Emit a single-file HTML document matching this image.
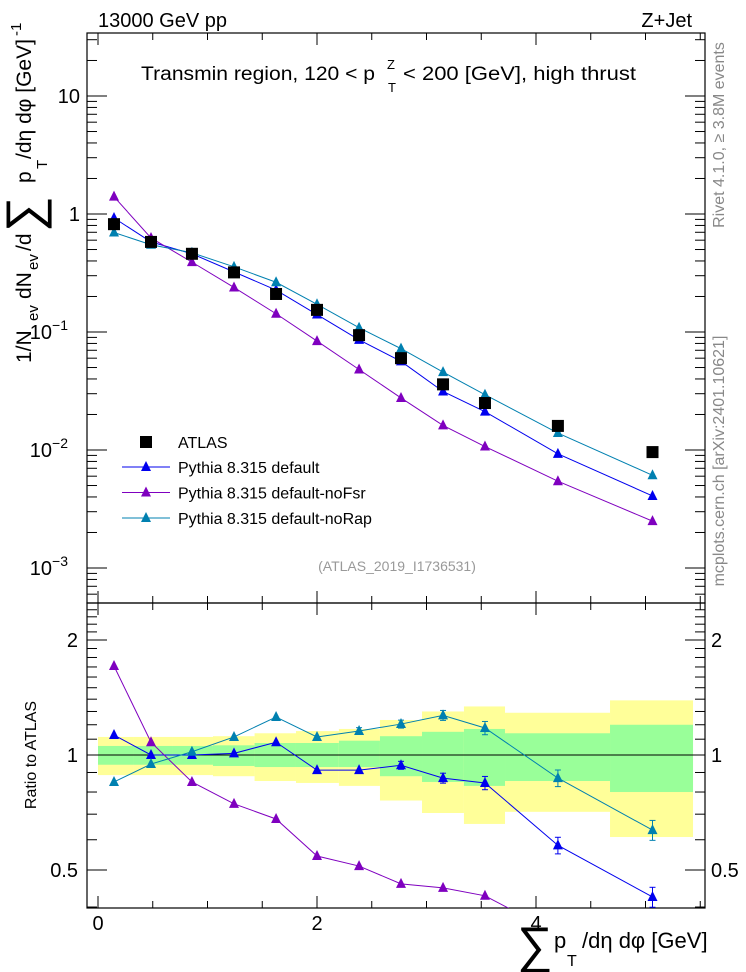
<!DOCTYPE html>
<html><head><meta charset="utf-8">
<style>
html,body{margin:0;padding:0;background:#fff;}
svg{display:block;font-family:"Liberation Sans",Arial,sans-serif;}
</style></head>
<body>
<svg id="chart" width="746" height="972" viewBox="0 0 746 972" xmlns="http://www.w3.org/2000/svg">
<g id="bands"></g>
<g id="axes"></g>
<g id="series"></g>
<g id="labels">
  <text x="98" y="27" font-size="20">13000 GeV pp</text>
  <text x="692" y="27" font-size="20" text-anchor="end">Z+Jet</text>
  <g font-size="19">
    <text x="141" y="80" textLength="234" lengthAdjust="spacingAndGlyphs">Transmin region, 120 &lt; p</text>
    <text x="387" y="69" font-size="13">Z</text>
    <text x="388" y="92" font-size="13">T</text>
    <text x="403" y="80" textLength="233" lengthAdjust="spacingAndGlyphs">&lt; 200 [GeV], high thrust</text>
  </g>
  <text x="397" y="571" font-size="14" fill="#999" text-anchor="middle">(ATLAS_2019_I1736531)</text>
  <text transform="translate(724,135) rotate(-90)" font-size="16" fill="#888" text-anchor="middle">Rivet 4.1.0, ≥ 3.8M events</text>
  <text transform="translate(724,461) rotate(-90)" font-size="16" fill="#888" text-anchor="middle">mcplots.cern.ch [arXiv:2401.10621]</text>
  <g transform="translate(31,363) rotate(-90)" font-size="21">
    <text x="0" y="0">1/N</text>
    <text x="42" y="7" font-size="15">ev</text>
    <text x="64" y="0">dN</text>
    <text x="93" y="7" font-size="15">ev</text>
    <text x="112" y="0">/d</text>
    <text x="131" y="10" font-size="50">∑</text>
    <text x="180" y="0">p</text>
    <text x="194" y="16" font-size="15">T</text>
    <text x="204" y="0" textLength="120" lengthAdjust="spacingAndGlyphs">/dη dφ  [GeV]</text>
    <text x="327" y="-10" font-size="15">-1</text>
  </g>
  <text transform="translate(36,755) rotate(-90)" font-size="16" text-anchor="middle">Ratio to ATLAS</text>
  <g font-size="22">
    <text x="517" y="962" font-size="50">∑</text>
    <text x="554" y="948">p</text>
    <text x="567" y="966" font-size="16">T</text>
    <text x="582" y="948">/dη dφ [GeV]</text>
  </g>
</g>
<g id="legend"></g>
</svg>
<script>
const xCenters = [0.146, 0.484, 0.858, 1.242, 1.626, 2.0, 2.384, 2.767, 3.151, 3.534, 4.2, 5.064];
const binEdges = [0, 0.32, 0.676, 1.05, 1.43, 1.808, 2.2, 2.575, 2.959, 3.342, 3.717, 4.676, 5.434];
const atlasValues = [0.82, 0.58, 0.46, 0.32, 0.21, 0.154, 0.094, 0.060, 0.036, 0.025, 0.016, 0.0096];
const ratioDefault = [1.128, 1.0, 1.0, 1.01, 1.08, 0.913, 0.913, 0.94, 0.87, 0.845, 0.58, 0.425];
const ratioNoFsr = [1.71, 1.08, 0.85, 0.745, 0.68, 0.544, 0.512, 0.46, 0.449, 0.428, 0.34, 0.26];
const ratioNoRap = [0.85, 0.947, 1.02, 1.115, 1.257, 1.115, 1.156, 1.205, 1.27, 1.177, 0.87, 0.636];
const ratioErr = [0.005, 0.005, 0.005, 0.005, 0.006, 0.008, 0.01, 0.012, 0.015, 0.02, 0.025, 0.03];
const yellowHi = [1.115, 1.115, 1.115, 1.12, 1.14, 1.155, 1.17, 1.235, 1.30, 1.34, 1.29, 1.39];
const yellowLo = [0.886, 0.886, 0.886, 0.88, 0.855, 0.845, 0.83, 0.76, 0.705, 0.66, 0.71, 0.61];
const greenHi = [1.056, 1.056, 1.056, 1.06, 1.075, 1.075, 1.09, 1.12, 1.15, 1.17, 1.14, 1.2];
const greenLo = [0.943, 0.943, 0.943, 0.936, 0.93, 0.93, 0.93, 0.88, 0.85, 0.83, 0.855, 0.80];
const seriesNames = ["Pythia 8.315 default", "Pythia 8.315 default-noFsr", "Pythia 8.315 default-noRap"];

const NS = "http://www.w3.org/2000/svg";
const L = 87, Rt = 705, T1 = 33, B1 = 603, T2 = 603, B2 = 908;
const X = v => 98 + 109.5 * v;
const Y = v => 214 - 118 * Math.log10(v);
const RY = r => 755 - 115 * Math.log2(r);
function mk(tag, attrs, parent) {
  const e = document.createElementNS(NS, tag);
  for (const k in attrs) e.setAttribute(k, attrs[k]);
  parent.appendChild(e);
  return e;
}
const axes = document.getElementById('axes');
const bands = document.getElementById('bands');
const series = document.getElementById('series');
const legend = document.getElementById('legend');

for (let i = 0; i < xCenters.length; i++) {
  const x0 = X(binEdges[i]), x1 = X(binEdges[i + 1]);
  const yb = mk('rect', {x: x0, y: RY(yellowHi[i]), width: x1 - x0, height: RY(yellowLo[i]) - RY(yellowHi[i]), fill: '#ffff99'}, bands);
  
  
  const gb = mk('rect', {x: x0, y: RY(greenHi[i]), width: x1 - x0, height: RY(greenLo[i]) - RY(greenHi[i]), fill: '#99ff99'}, bands);
  
  
}
const one = mk('line', {x1: L, x2: Rt, y1: RY(1), y2: RY(1), stroke: '#000', 'stroke-width': 1}, axes);



const f1 = mk('rect', {x: L, y: T1, width: Rt - L, height: B1 - T1, fill: 'none', stroke: '#000', 'stroke-width': 1.2}, axes);


const f2 = mk('rect', {x: L, y: T2, width: Rt - L, height: B2 - T2, fill: 'none', stroke: '#000', 'stroke-width': 1.2}, axes);



for (let v = 0; v <= 5.5; v += 0.5) {
  const x = X(v), major = Math.abs(v % 2) < 1e-9;
  const len = major ? 12 : 7;
  for (const [yt, yb] of [[T1, B1], [T2, B2]]) {
    mk('line', {x1: x, x2: x, y1: yt, y2: yt + len, stroke: '#000'}, axes);
    mk('line', {x1: x, x2: x, y1: yb, y2: yb - len, stroke: '#000'}, axes);
  }
  if (major && v < 5) {
    const t = mk('text', {x: x, y: 930, 'font-size': 20, 'text-anchor': 'middle'}, axes);
    t.textContent = String(v);
    
    
  }
}
for (let d = -4; d <= 1; d++) {
  for (let m = 1; m <= 9; m++) {
    const v = m * Math.pow(10, d), y = Y(v);
    if (y < T1 || y > B1) continue;
    const len = m === 1 ? 20 : 10;
    mk('line', {x1: L, x2: L + len, y1: y, y2: y, stroke: '#000'}, axes);
    mk('line', {x1: Rt, x2: Rt - len, y1: y, y2: y, stroke: '#000'}, axes);
    if (m === 1) {
      const t = mk('text', {x: 80, y: y + 7, 'font-size': 20, 'text-anchor': 'end'}, axes);
      
      
      if (d >= 0) t.textContent = String(Math.pow(10, d));
      else {
        t.textContent = '10';
        const s = mk('tspan', {dy: -9, 'font-size': 14}, t);
        s.textContent = '\u2212' + (-d);
        t.setAttribute('x', 80 - 4 - 8 * String(-d).length);
      }
    }
  }
}
for (let k = 4; k <= 25; k++) {
  const r = k / 10, y = RY(r);
  if (y < T2 || y > B2) continue;
  const major = (k === 5 || k === 10 || k === 20);
  const len = major ? 20 : 10;
  mk('line', {x1: L, x2: L + len, y1: y, y2: y, stroke: '#000'}, axes);
  mk('line', {x1: Rt, x2: Rt - len, y1: y, y2: y, stroke: '#000'}, axes);
  if (major) {
    const lbl = String(r);
    const t1 = mk('text', {x: 78, y: y + 7, 'font-size': 20, 'text-anchor': 'end'}, axes);
    t1.textContent = lbl;
    
    
    const t2 = mk('text', {x: 711, y: y + 7, 'font-size': 20}, axes);
    t2.textContent = lbl;
    
    
  }
}

function tri(parent, x, y, color) {
  return mk('polygon', {points: `${x - 5},${y + 4} ${x + 5},${y + 4} ${x},${y - 6}`, fill: color}, parent);
}
const colors = ['#0000ee', '#7f00bf', '#0080b0'];
const ratios = [ratioDefault, ratioNoFsr, ratioNoRap];

const defs = mk('defs', {}, document.getElementById('chart'));
const c1 = mk('clipPath', {id: 'clipMain'}, defs);
mk('rect', {x: L, y: T1, width: Rt - L, height: B1 - T1}, c1);
const c2 = mk('clipPath', {id: 'clipRatio'}, defs);
mk('rect', {x: L, y: T2, width: Rt - L, height: B2 - T2}, c2);

for (let s = 0; s < 3; s++) {
  const rat = ratios[s];
  const gm = mk('g', {'clip-path': 'url(#clipMain)'}, series);
  
  
  const pts = xCenters.map((x, i) => `${X(x)},${Y(atlasValues[i] * rat[i])}`).join(' ');
  mk('polyline', {points: pts, fill: 'none', stroke: colors[s], 'stroke-width': 1}, gm);
  xCenters.forEach((x, i) => {
    const p = tri(gm, X(x), Y(atlasValues[i] * rat[i]), colors[s]);
    
    
  });
  const gr = mk('g', {'clip-path': 'url(#clipRatio)'}, series);
  
  
  const rpts = xCenters.map((x, i) => `${X(x)},${RY(rat[i])}`).join(' ');
  mk('polyline', {points: rpts, fill: 'none', stroke: colors[s], 'stroke-width': 1}, gr);
  xCenters.forEach((x, i) => {
    const cx = X(x);
    const e = ratioErr[i] * rat[i] * 2;
    if (e > 0.02) {
      const yt = RY(rat[i] + e), yb = RY(rat[i] - e);
      mk('line', {x1: cx, x2: cx, y1: yt, y2: yb, stroke: colors[s]}, gr);
      mk('line', {x1: cx - 3, x2: cx + 3, y1: yt, y2: yt, stroke: colors[s]}, gr);
      mk('line', {x1: cx - 3, x2: cx + 3, y1: yb, y2: yb, stroke: colors[s]}, gr);
    }
    const p = tri(gr, cx, RY(rat[i]), colors[s]);
    
    
  });
}
xCenters.forEach((x, i) => {
  const r = mk('rect', {x: X(x) - 6, y: Y(atlasValues[i]) - 6, width: 12, height: 12, fill: '#000'}, series);
  
  
});

const la = mk('rect', {x: 140, y: 436, width: 12, height: 12, fill: '#000'}, legend);


const lt = mk('text', {x: 178, y: 448, 'font-size': 16}, legend);
lt.textContent = 'ATLAS';


seriesNames.forEach((n, s) => {
  const y = 467 + s * 25.5;
  mk('line', {x1: 122, x2: 170, y1: y, y2: y, stroke: colors[s]}, legend);
  tri(legend, 146, y, colors[s]);
  const t = mk('text', {x: 178, y: y + 6, 'font-size': 16}, legend);
  t.textContent = n;
  
  
});
</script>
</body></html>
